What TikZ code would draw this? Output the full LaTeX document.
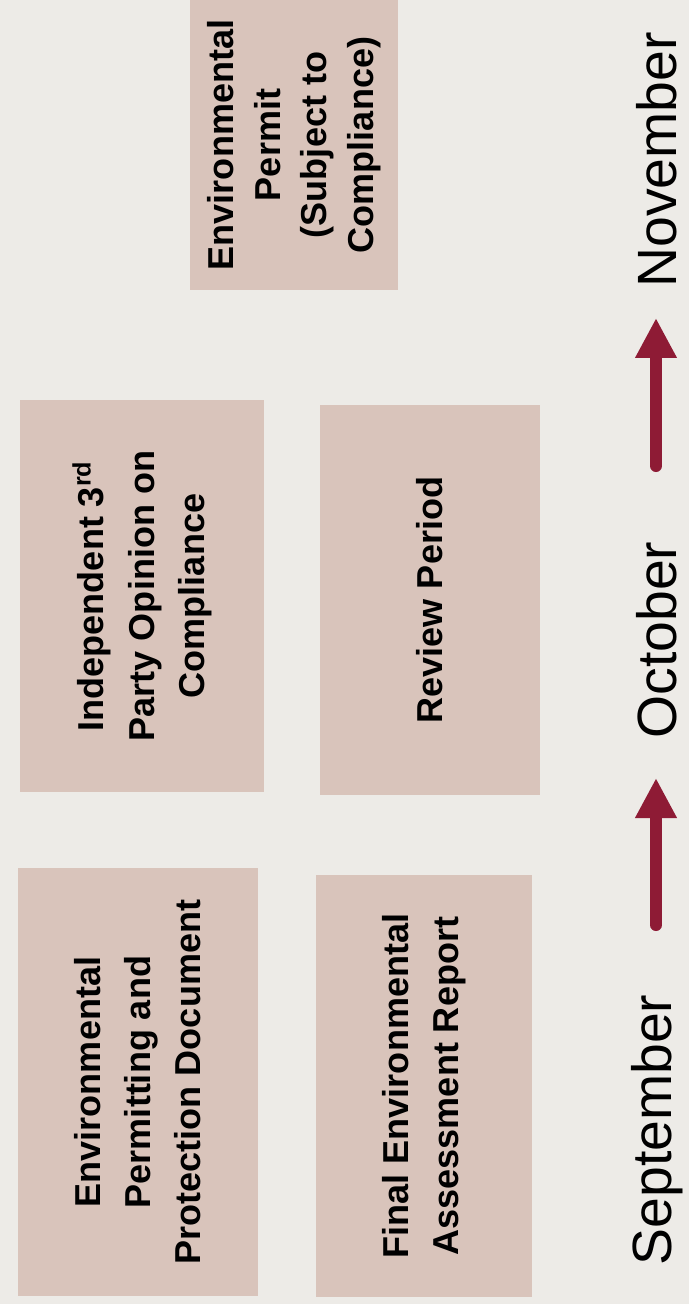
\documentclass[tikz,border=0pt]{standalone}
\usepackage{fontspec}
\setmainfont{Liberation Sans}
\usepackage{xcolor}
\usepackage{tikz}
\usetikzlibrary{arrows.meta,positioning}
\definecolor{paper}{HTML}{EDEBE7}
\definecolor{boxfill}{HTML}{D9C4BB}
\definecolor{maroon}{HTML}{8E1B35}
\tikzset{
  docbox/.style={
    rectangle, fill=boxfill, draw=none, rotate=90,
    align=center, inner sep=2pt,
    font=\fontsize{20.5}{28.5}\selectfont\bfseries
  },
  monthlabel/.style={
    rotate=90, inner sep=0pt,
    font=\fontsize{31.5}{38}\selectfont
  },
  timearrow/.style={
    -{Triangle[length=0.8cm, width=0.78cm]}, line width=0.24cm,
    line cap=round, color=maroon
  },
}
\begin{document}
\begin{tikzpicture}[x=0.02cm, y=-0.02cm]

% Page
\fill[paper] (0,0) rectangle (689,1304);
\useasboundingbox (0,0) rectangle (689,1304);

% September column
\node[docbox, minimum width=8.58cm, minimum height=4.8cm] (eppd) at (138,1082)
  {Environmental\\Permitting and\\Protection Document};
\node[docbox, minimum width=8.44cm, minimum height=4.32cm] (fear) at (424,1086)
  {Final Environmental\\Assessment Report};

% October column
\node[docbox, minimum width=7.84cm, minimum height=4.88cm] (opinion) at (142,596)
  {Independent 3\textsuperscript{rd}\\Party Opinion on\\Compliance};
\node[docbox, minimum width=7.8cm, minimum height=4.4cm] (review) at (430,600)
  {Review Period};

% November column
\node[docbox, minimum width=5.8cm, minimum height=4.16cm,
  font=\fontsize{20.5}{26.5}\selectfont\bfseries] (permit) at (294,145)
  {Environmental\\Permit\\(Subject to\\Compliance)};

% Timeline
\node[monthlabel] (sep) at (657,1130) {September};
\node[monthlabel] (oct) at (657,640) {October};
\node[monthlabel] (nov) at (657,160) {November};

\coordinate (a1) at (656,925);
\coordinate (b1) at (656,778);
\coordinate (a2) at (656,466);
\coordinate (b2) at (656,318);
\draw[timearrow] (a1) -- (b1);
\draw[timearrow] (a2) -- (b2);

\end{tikzpicture}
\end{document}
